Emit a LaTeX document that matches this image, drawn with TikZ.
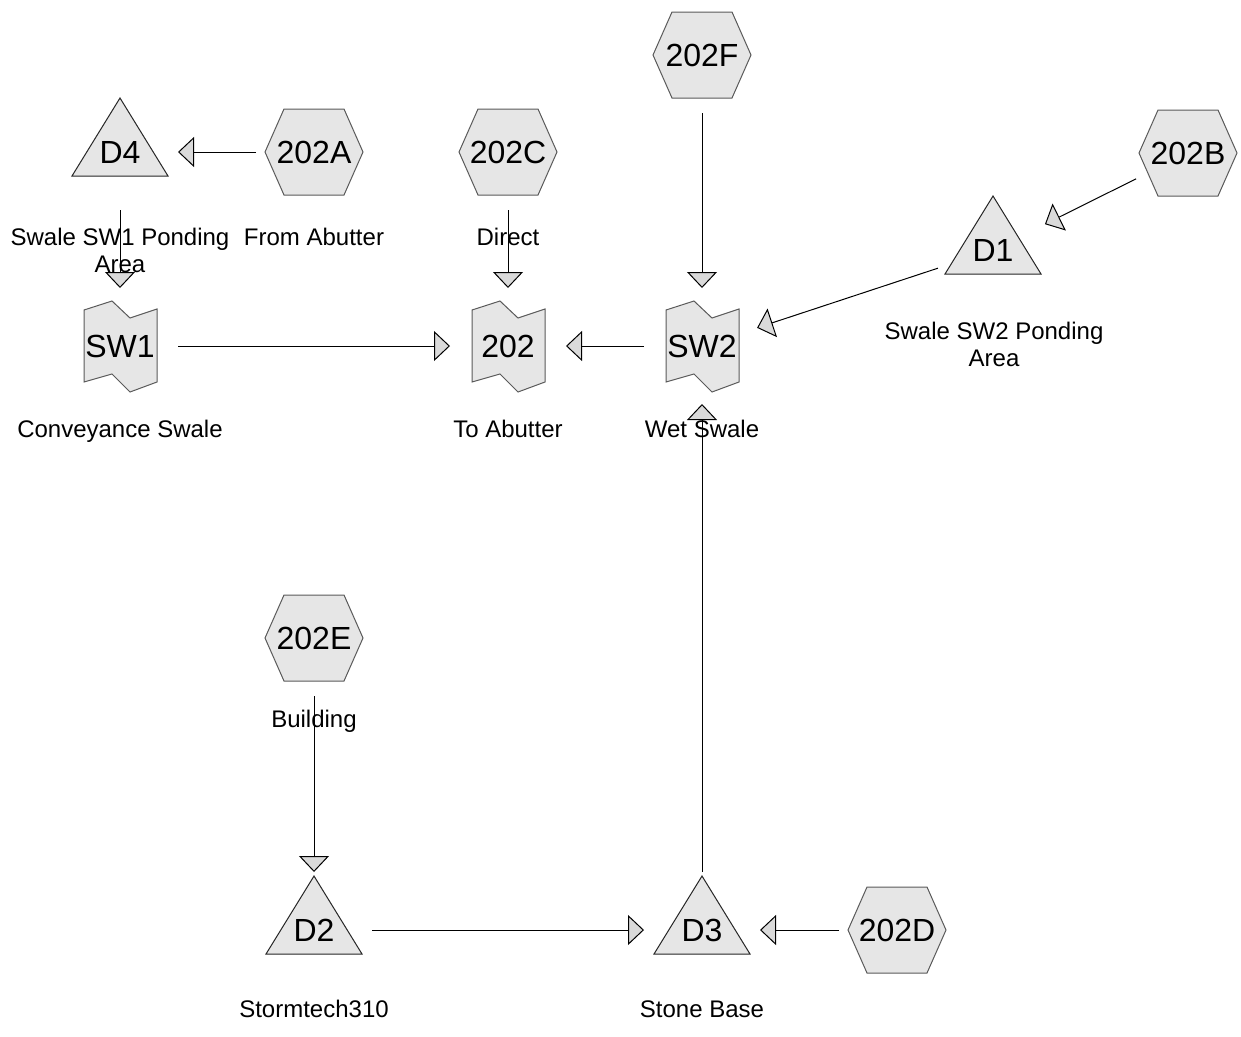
\documentclass[tikz,border=0pt]{standalone}
\usepackage{fontspec}
\setmainfont{Liberation Sans}
\usetikzlibrary{arrows.meta}
\definecolor{shapefill}{HTML}{E6E6E6}
\definecolor{hexline}{HTML}{5A5A5A}
\definecolor{arrowfill}{HTML}{DADADA}
\tikzset{
  nodetext/.style={font=\fontsize{32}{36}\selectfont, inner sep=0pt},
  lbl/.style={font=\fontsize{24}{27}\selectfont, align=center, anchor=base, inner sep=0pt},
  flow/.style={draw=black, line width=1pt, shorten <=58pt, shorten >=58pt,
    -{Triangle[length=16pt,width=30pt,fill=arrowfill]}},
  hexshape/.style={fill=shapefill, draw=hexline, line width=1pt},
  trishape/.style={fill=shapefill, draw=black!85, line width=1pt},
  reachshape/.style={fill=shapefill, draw=hexline, line width=1pt},
}
\newcommand\HexN[4]{%
  \draw[hexshape, shift={(#2,#3)}] (-49,0) -- (-30,-43) -- (30,-43) -- (49,0) -- (30,43) -- (-30,43) -- cycle;
  \node[nodetext] (#1) at (#2,#3) {#4};}
\newcommand\TriN[4]{%
  \draw[trishape, shift={(#2,#3)}] (0,-54) -- (48,24) -- (-48,24) -- cycle;
  \node[nodetext] (#1) at (#2,#3) {#4};}
\newcommand\ReachN[4]{%
  \draw[reachshape, shift={(#2,#3)}] (-36,-36) -- (-8,-45) -- (10,-28) -- (37,-37) -- (37,36) -- (10,46) -- (-8,28) -- (-36,36) -- cycle;
  \node[nodetext] (#1) at (#2,#3) {#4};}
\begin{document}
\begin{tikzpicture}[x=1pt,y=-1pt]
\useasboundingbox (0,0) rectangle (1241,1036);
% nodes
\HexN{n202F}{702}{55}{202F}
\HexN{n202A}{314}{152}{202A}
\HexN{n202C}{508}{152}{202C}
\HexN{n202B}{1188}{153}{202B}
\HexN{n202E}{314}{638}{202E}
\HexN{n202D}{897}{930}{202D}
\TriN{D4}{120}{152}{D4}
\TriN{D1}{993}{250}{D1}
\TriN{D2}{314}{930}{D2}
\TriN{D3}{702}{930}{D3}
\ReachN{SW1}{120}{346}{SW1}
\ReachN{n202}{508}{346}{202}
\ReachN{SW2}{702}{346}{SW2}
% labels
\node[lbl] (lD4) at (120,272) {Swale SW1 Ponding\\Area};
\node[lbl] (l202A) at (314,245) {From Abutter};
\node[lbl] (l202C) at (508,245) {Direct};
\node[lbl] (lSW1) at (120,437) {Conveyance Swale};
\node[lbl] (l202) at (508,437) {To Abutter};
\node[lbl] (lSW2) at (702,437) {Wet Swale};
\node[lbl] (lD1) at (994,366) {Swale SW2 Ponding\\Area};
\node[lbl] (l202E) at (314,727) {Building};
\node[lbl] (lD2) at (314,1017) {Stormtech310};
\node[lbl] (lD3) at (702,1017) {Stone Base};
% connectors
\draw[flow] (n202A.center) -- (D4.center);
\draw[flow] (D4.center) -- (SW1.center);
\draw[flow] (n202C.center) -- (n202.center);
\draw[flow] (SW1.center) -- (n202.center);
\draw[flow] (SW2.center) -- (n202.center);
\draw[flow] (n202F.center) -- (SW2.center);
\draw[flow] (n202B.center) -- (D1.center);
\draw[flow] (D1.center) -- (SW2.center);
\draw[flow] (n202E.center) -- (D2.center);
\draw[flow] (D2.center) -- (D3.center);
\draw[flow] (n202D.center) -- (D3.center);
\draw[flow] (D3.center) -- (SW2.center);
\end{tikzpicture}
\end{document}
